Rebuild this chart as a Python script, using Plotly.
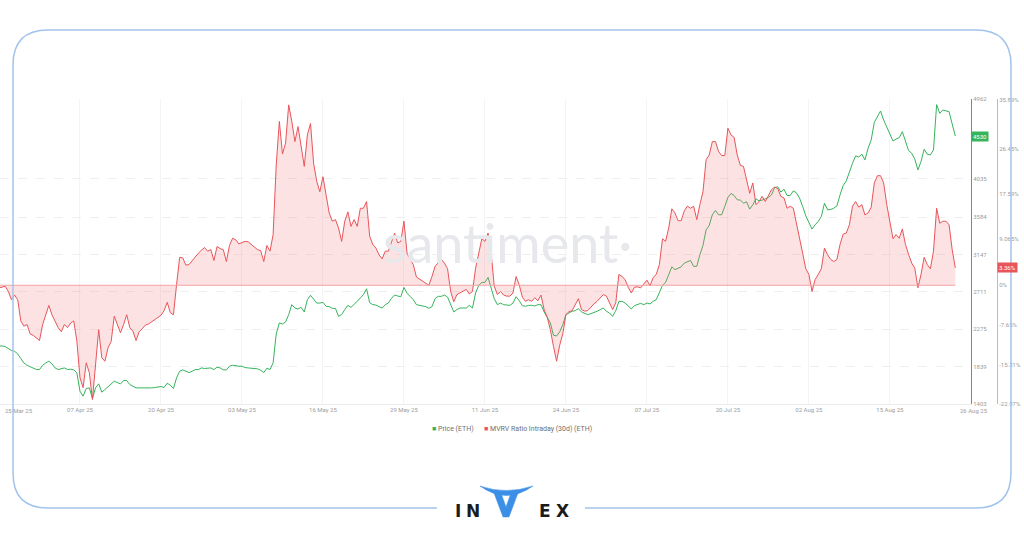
import plotly.graph_objects as go
import pandas as pd

# ---------------- data ----------------
series_start = "2025-03-25 00:00"
series_step = "12h"

price_eth = [
    2077, 2081, 2073, 2050, 2026, 2018, 1987, 1933, 1882, 1855,
    1840, 1817, 1805, 1805, 1855, 1882, 1902, 1871, 1824, 1805,
    1817, 1824, 1805, 1809, 1801, 1766, 1552, 1494, 1584, 1591,
    1467, 1591, 1638, 1541, 1572, 1607, 1630, 1669, 1653, 1638,
    1677, 1677, 1630, 1615, 1591, 1591, 1591, 1584, 1588, 1591,
    1595, 1603, 1607, 1595, 1646, 1622, 1584, 1708, 1785, 1801,
    1785, 1770, 1785, 1805, 1805, 1824, 1817, 1817, 1824, 1805,
    1832, 1824, 1801, 1801, 1844, 1855, 1848, 1844, 1844,
    1828, 1824, 1821, 1817, 1813, 1797, 1770, 1821, 1805, 1882,
    2221, 2349, 2337, 2360, 2446, 2562, 2523, 2512, 2531, 2477,
    2620, 2671, 2624, 2581, 2581, 2589, 2543, 2539, 2519, 2519,
    2426, 2446, 2504, 2554, 2531, 2562, 2601, 2640, 2679, 2748,
    2585, 2562, 2558, 2539, 2523, 2562, 2581, 2636, 2675, 2663,
    2655, 2764, 2694, 2659, 2620, 2562, 2554, 2543, 2539, 2519,
    2539, 2632, 2659, 2659, 2675, 2651, 2562, 2477, 2504, 2523,
    2523, 2523, 2554, 2523, 2698, 2787, 2822,
    2822, 2880, 2764, 2632, 2562, 2581, 2562, 2562, 2554, 2581,
    2655, 2609, 2551, 2543, 2554, 2554, 2547, 2562, 2562, 2477,
    2415, 2349, 2205, 2197, 2244, 2329, 2446, 2465, 2485, 2492,
    2516, 2477, 2461, 2446, 2457, 2469, 2485, 2504, 2523, 2485,
    2465, 2426, 2492, 2601, 2601, 2581, 2543, 2512, 2551, 2566,
    2577, 2562, 2581, 2570, 2601, 2620, 2698, 2787, 2822, 2919,
    3004, 2970, 2985, 3004, 3047, 3067, 3078, 3009, 3009, 3144,
    3253, 3435, 3486, 3611, 3661, 3611, 3611,
    3708, 3813, 3860, 3836, 3786, 3782, 3747, 3762, 3677, 3727,
    3797, 3774, 3782, 3797, 3813, 3843, 3929, 3937, 3875, 3910,
    3836, 3836, 3890, 3867, 3805, 3708, 3599, 3522, 3444, 3494,
    3533, 3591, 3747, 3669, 3673, 3688, 3715, 3843, 3952, 4006,
    4115, 4212, 4298, 4286, 4317, 4251, 4387, 4484, 4690, 4756,
    4822, 4717, 4631, 4562, 4472, 4495, 4511, 4581, 4465, 4360,
    4329, 4259, 4135, 4232, 4376, 4317, 4309, 4368, 4896, 4795,
    4833, 4822, 4814, 4671, 4530,
]

mvrv_pct = [
    -0.5, -0.4, -0.2, -1.2, -2.8, -1.9, -2.8, -6.9, -7.9, -7.6,
    -9.4, -9.7, -10.2, -10.7, -7.6, -5.7, -3.9, -5.7, -6.9, -8.2,
    -9.0, -7.6, -8.2, -7.3, -6.9, -10.8, -17.9, -19.8, -15.0, -16.9,
    -22.1, -16.0, -8.6, -14.0, -14.7, -12.1, -10.9, -6.0, -7.6, -9.2,
    -7.6, -5.7, -8.2, -8.9, -10.7, -9.0, -8.4, -7.7, -7.5, -7.1,
    -6.7, -6.2, -5.8, -4.9, -3.3, -5.3, -5.7, 0.1, 5.4, 5.3,
    3.9, 4.0, 4.8, 5.5, 6.2, 6.8, 7.3, 6.6, 6.9, 4.8,
    7.5, 7.1, 6.9, 4.6, 7.7, 9.1, 8.8, 8.0, 8.2,
    8.5, 8.4, 7.9, 7.3, 6.9, 6.7, 4.6, 7.7, 6.6, 9.8,
    23.3, 31.7, 25.4, 27.5, 34.9, 31.7, 27.8, 30.7, 26.5, 23.0,
    29.1, 31.3, 23.6, 20.1, 18.1, 21.0, 17.5, 14.0, 12.4, 12.7,
    11.1, 8.5, 12.4, 14.2, 11.4, 12.7, 11.4, 14.9, 14.9, 16.2,
    9.5, 7.9, 7.2, 5.9, 5.1, 6.6, 6.6, 8.5, 10.1, 8.2,
    8.5, 12.4, 6.2, 5.0, 4.0, 1.6, 1.2, 0.8, 0.5, 0.0,
    1.7, 3.7, 4.3, 5.0, 4.3, 3.2, -1.2, -3.2, -1.8, -1.5,
    -1.2, -0.8, -1.7, -1.2, 3.3, 6.0, 9.0,
    8.5, 10.1, 6.2, -0.2, -1.8, -1.2, -1.9, -2.1, -2.1, -1.5,
    1.7, 0.1, -2.3, -3.1, -2.8, -3.1, -2.4, -3.0, -1.9, -4.7,
    -6.2, -8.6, -11.8, -14.7, -11.6, -9.4, -5.7, -5.1, -4.9, -3.7,
    -2.6, -4.7, -5.0, -4.9, -4.2, -3.6, -3.1, -2.4, -1.8, -2.1,
    -3.4, -4.7, -3.4, 2.1, 1.7, 1.1, -0.4, -1.5, -0.4, -0.3,
    -0.5, 0.3, 1.0, -0.1, 1.5, 2.1, 4.0, 9.0, 8.5, 11.1,
    14.8, 14.0, 12.5, 12.5, 14.4, 15.3, 14.9, 15.3, 12.7, 15.6,
    18.1, 24.3, 25.2, 27.8, 27.8, 25.9, 25.1,
    25.1, 30.4, 29.1, 28.6, 25.2, 23.2, 23.0, 20.4, 17.8, 19.8,
    15.6, 16.2, 17.2, 16.2, 17.5, 18.5, 19.0, 18.7, 17.2, 16.9,
    14.9, 15.3, 14.9, 12.0, 9.8, 6.2, 3.2, 2.1, -1.2, 1.1,
    2.1, 3.2, 7.2, 5.9, 5.0, 4.6, 5.0, 7.9, 9.9, 10.1,
    11.7, 15.3, 16.2, 15.1, 15.6, 13.6, 14.0, 15.1, 19.8, 21.2,
    21.2, 19.8, 15.6, 12.4, 9.0, 9.8, 9.1, 10.9, 7.9, 6.0,
    4.3, 3.3, -0.5, 2.1, 5.4, 4.0, 3.2, 6.6, 14.9, 12.0,
    12.4, 12.4, 11.7, 6.9, 3.36,
]

price_ticks = [1403, 1839, 2275, 2711, 3147, 3584, 4035, 4962]
price_range = [1403, 4962]
mvrv_ticks = [-22.97, -15.31, -7.65, 0, 9.065, 17.59, 26.45, 35.89]
mvrv_tick_labels = ["-22.97%", "-15.31%", "-7.65%", "0%", "9.065%", "17.59%", "26.45%", "35.89%"]
mvrv_range = [-22.97, 36.04]
x_range = ["2025-03-25 03:51", "2025-08-28 00:30"]
date_ticks = ["2025-04-07", "2025-04-20", "2025-05-03", "2025-05-16", "2025-05-29", "2025-06-11",
              "2025-06-24", "2025-07-07", "2025-07-20", "2025-08-02", "2025-08-15"]
first_date_label = ("2025-03-25", "25 Mar 25")
last_date_label = ("2025-08-26", "26 Aug 25")
price_tag_text = "4530"
mvrv_tag_text = "3.36%"
series_names = ["Price (ETH)", "MVRV Ratio Intraday (30d) (ETH)"]

# ---------------- styling ----------------
GREEN = "#35b45c"
RED = "#e8555a"
FILL = "rgba(243,120,120,0.21)"
AXIS_TXT = "#9c9c9c"
FRAME = "#a2c3ec"
LOGO_BLUE = "#3c8fe6"
FONT = "Roboto, 'Open Sans', Arial, sans-serif"

W, H = 1024, 538
ML, MR, MT, MB = 0, 27, 99, 134
PW = W - ML - MR
PH = H - MT - MB


def P(x, y):
    return ((x - ML) / PW, (MT + PH - y) / PH)


def path(cmds):
    out = []
    for c in cmds:
        op, pts = c[0], c[1:]
        coords = " ".join("{:.5f},{:.5f}".format(*P(px, py)) for px, py in pts)
        out.append(op + " " + coords if pts else op)
    return " ".join(out)


dates_p = pd.date_range(series_start, periods=len(price_eth), freq=series_step)
dates_m = pd.date_range(series_start, periods=len(mvrv_pct), freq=series_step)
tick_dates = pd.to_datetime(date_ticks)

fig = go.Figure()
fig.add_trace(go.Scatter(
    x=dates_m, y=mvrv_pct, yaxis="y2", mode="lines", name=series_names[1],
    line=dict(color=RED, width=1), fill="tozeroy", fillcolor=FILL,
    showlegend=False, hoverinfo="skip"))
fig.add_trace(go.Scatter(
    x=dates_p, y=price_eth, mode="lines", name=series_names[0],
    line=dict(color=GREEN, width=1), showlegend=False, hoverinfo="skip"))

shapes = []
# MVRV zero baseline across the data span
shapes.append(dict(type="line", xref="x", yref="y2", x0=dates_m[0], x1=dates_m[-1],
                   y0=0, y1=0, line=dict(color="#f2a3a3", width=1), layer="above"))
# rounded frame (open at the bottom for the logo)
frame = path([
    ("M", (437, 508)), ("L", (48, 508)), ("Q", (13, 508), (13, 473)),
    ("L", (13, 65)), ("Q", (13, 30), (48, 30)), ("L", (976, 30)),
    ("Q", (1011, 30), (1011, 65)), ("L", (1011, 473)),
    ("Q", (1011, 508), (976, 508)), ("L", (585, 508)),
])
shapes.append(dict(type="path", xref="paper", yref="paper", path=frame,
                   line=dict(color=FRAME, width=1.5), layer="above"))
# logo horns and V
horns = path([("M", (480, 486)), ("Q", (506, 505), (533, 486)),
              ("Q", (506, 495), (480, 486)), ("Z",)])
vee = path([("M", (494, 493)), ("L", (501, 493)), ("L", (506, 507)), ("L", (511, 493)),
            ("L", (518, 493)), ("L", (509, 517)), ("L", (503, 517)), ("Z",)])
for pth in (horns, vee):
    shapes.append(dict(type="path", xref="paper", yref="paper", path=pth,
                       fillcolor=LOGO_BLUE, line=dict(color=LOGO_BLUE, width=0.5)))

annotations = []


def note(x, y, text, size, color, family=FONT, xanchor="center", xref="paper", **kw):
    annotations.append(dict(xref=xref, yref=kw.pop("yref", "paper"), x=x, y=y, text=text,
                            xanchor=xanchor, yanchor=kw.pop("yanchor", "middle"),
                            showarrow=False,
                            font=dict(family=family, size=size, color=color), **kw))


# watermark
wx, wy = P(508, 242)
note(wx, wy, "santiment·", 54, "#e6e8ec", family="Lato, sans-serif")
# first / last date labels
ly = P(0, 410)[1]
note(P(3, 0)[0], ly, first_date_label[1], 6, AXIS_TXT, xanchor="left")
note(last_date_label[0], ly, last_date_label[1], 6, AXIS_TXT, xanchor="left", xref="x")
# last value tags
note(P(971, 0)[0], price_eth[-1], price_tag_text, 6, "white", xanchor="left",
     yref="y", bgcolor=GREEN, borderpad=1)
note(1.0, mvrv_pct[-1], mvrv_tag_text, 6, "white", xanchor="left",
     yref="y2", bgcolor=RED, borderpad=1)
# legend
gx, gy = P(512, 429)
legend_txt = ('<span style="color:{g}">■</span> {a}      '
              '<span style="color:{r}">■</span> {b}').format(
    g=GREEN, r=RED, a=series_names[0], b=series_names[1])
note(gx, gy, legend_txt, 7, "#6f6f6f")
# logo letters
for ch, cx in (("I", 458), ("N", 473), ("E", 545), ("X", 562)):
    ax, ay = P(cx, 511)
    note(ax, ay, "<b>" + ch + "</b>", 17, "#1b1b1b", family="'DejaVu Sans', sans-serif")

fig.update_layout(
    width=W, height=H,
    margin=dict(l=ML, r=MR, t=MT, b=MB, pad=0),
    paper_bgcolor="white", plot_bgcolor="white",
    showlegend=False,
    font=dict(family=FONT, size=6, color=AXIS_TXT),
    xaxis=dict(type="date", range=x_range, domain=[0, P(971, 0)[0]],
               tickvals=tick_dates, tickformat="%d %b %y",
               showgrid=True, gridcolor="#f4f4f4", gridwidth=1,
               showline=True, linecolor="#ececec", linewidth=1,
               ticks="", tickfont=dict(size=6, color=AXIS_TXT), zeroline=False),
    yaxis=dict(range=price_range, side="right", tickvals=price_ticks,
               showgrid=True, gridcolor="#efefef", griddash="dash", gridwidth=1,
               showline=True, linecolor=GREEN, linewidth=1, ticks="",
               tickfont=dict(size=6, color=AXIS_TXT), zeroline=False),
    yaxis2=dict(range=mvrv_range, overlaying="y", side="right", anchor="free", position=1.0,
                tickvals=mvrv_ticks, ticktext=mvrv_tick_labels, showgrid=False,
                showline=True, linecolor="#f2a3a3", linewidth=1, ticks="",
                tickfont=dict(size=6, color=AXIS_TXT), zeroline=False),
    shapes=shapes,
    annotations=annotations,
)

fig.write_html("out.html", config={"displayModeBar": False},
               post_script="document.body.style.margin='0';document.body.style.overflow='hidden';")
